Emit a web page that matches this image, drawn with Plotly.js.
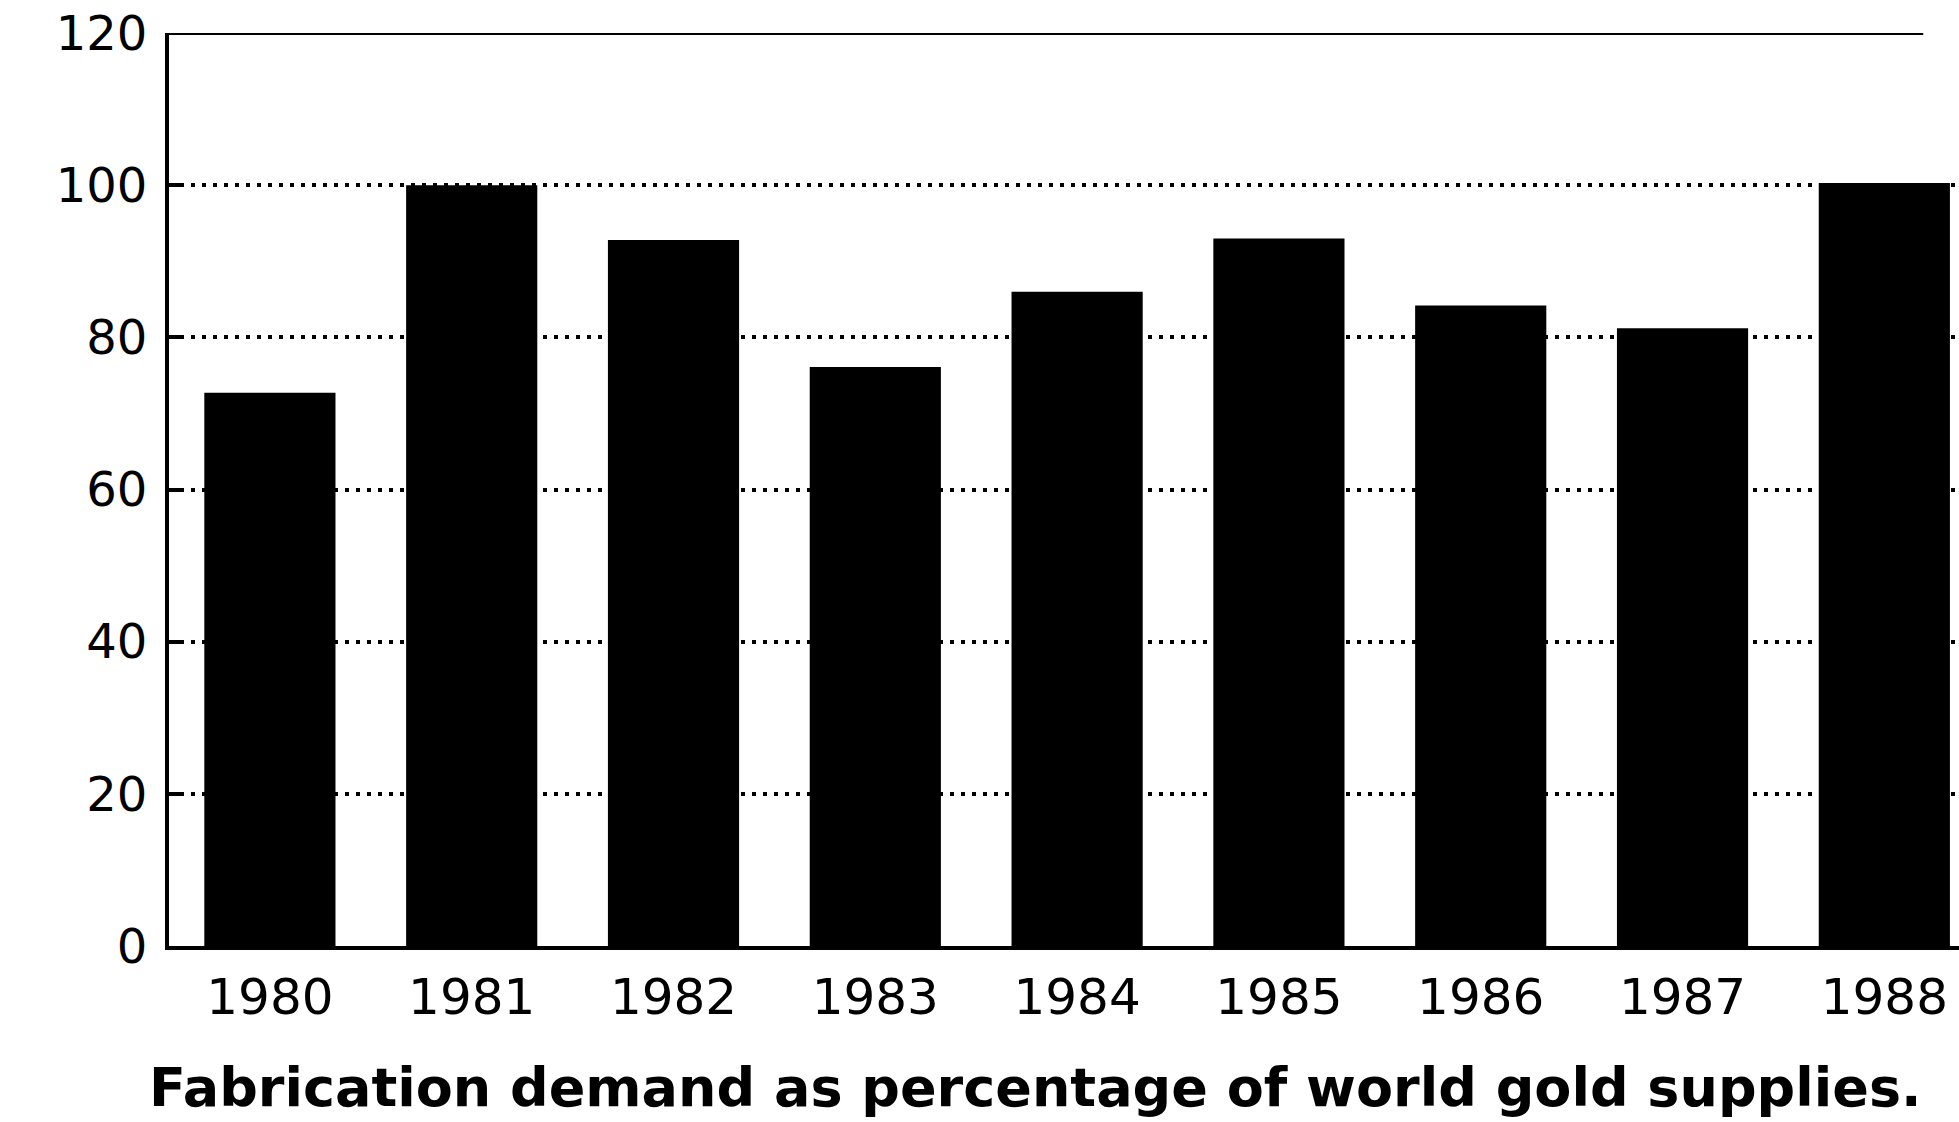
<!DOCTYPE html>
<html>
<head>
<meta charset="utf-8">
<script src="https://cdn.plot.ly/plotly-3.0.1.min.js"></script>
<style>html,body{margin:0;padding:0;background:#fff;}#chart{width:1959px;height:1122px;}</style>
</head>
<body>
<div id="chart"></div>
<script>
// Data
const years = ['1980', '1981', '1982', '1983', '1984', '1985', '1986', '1987', '1988'];
const fabricationPct = [72.7, 100, 92.8, 76.1, 86, 93, 84.2, 81.2, 100.3];
const yTickValues = [0, 20, 40, 60, 80, 100, 120];
const yTickLabels = ['0', '20', '40', '60', '80', '100', '120'];
const xTitle = 'Fabrication demand as percentage of world gold supplies.';

const trace = {
  type: 'bar',
  x: years,
  y: fabricationPct,
  marker: {color: '#000000', line: {width: 0}},
  hoverinfo: 'x+y'
};

const layout = {
  width: 1959,
  height: 1122,
  margin: {l: 169, r: 0, t: 33, b: 176},
  paper_bgcolor: '#ffffff',
  plot_bgcolor: '#ffffff',
  bargap: 0.35,
  showlegend: false,
  xaxis: {
    type: 'category',
    range: [-0.5, 8.37],
    showgrid: false,
    zeroline: false,
    showline: true,
    linecolor: '#000',
    linewidth: 4,
    ticks: '',
    ticklabelstandoff: 4,
    tickfont: {family: 'DejaVu Sans', size: 50, color: '#000'}
  },
  yaxis: {
    range: [0, 120],
    tickvals: yTickValues,
    ticktext: yTickLabels,
    showgrid: true,
    gridcolor: '#000',
    gridwidth: 4,
    griddash: '4px,7px',
    zeroline: false,
    showline: true,
    linecolor: '#000',
    linewidth: 4,
    ticks: 'inside',
    ticklen: 14,
    tickwidth: 4,
    tickcolor: '#000',
    ticklabelstandoff: 8,
    tickfont: {family: 'DejaVu Sans', size: 48, color: '#000'}
  },
  annotations: [{
    text: '<b>' + xTitle + '</b>',
    xref: 'paper', yref: 'paper',
    x: 0.484, y: -0.155,
    xanchor: 'center', yanchor: 'middle',
    showarrow: false,
    font: {family: 'DejaVu Sans', size: 54, color: '#000'}
  }],
  shapes: [{
    type: 'line', xref: 'paper', yref: 'y',
    x0: 0, x1: 0.98, y0: 120, y1: 120,
    line: {color: '#000', width: 4}
  }]
};

Plotly.newPlot('chart', [trace], layout, {displayModeBar: false, staticPlot: true});
</script>
</body>
</html>
